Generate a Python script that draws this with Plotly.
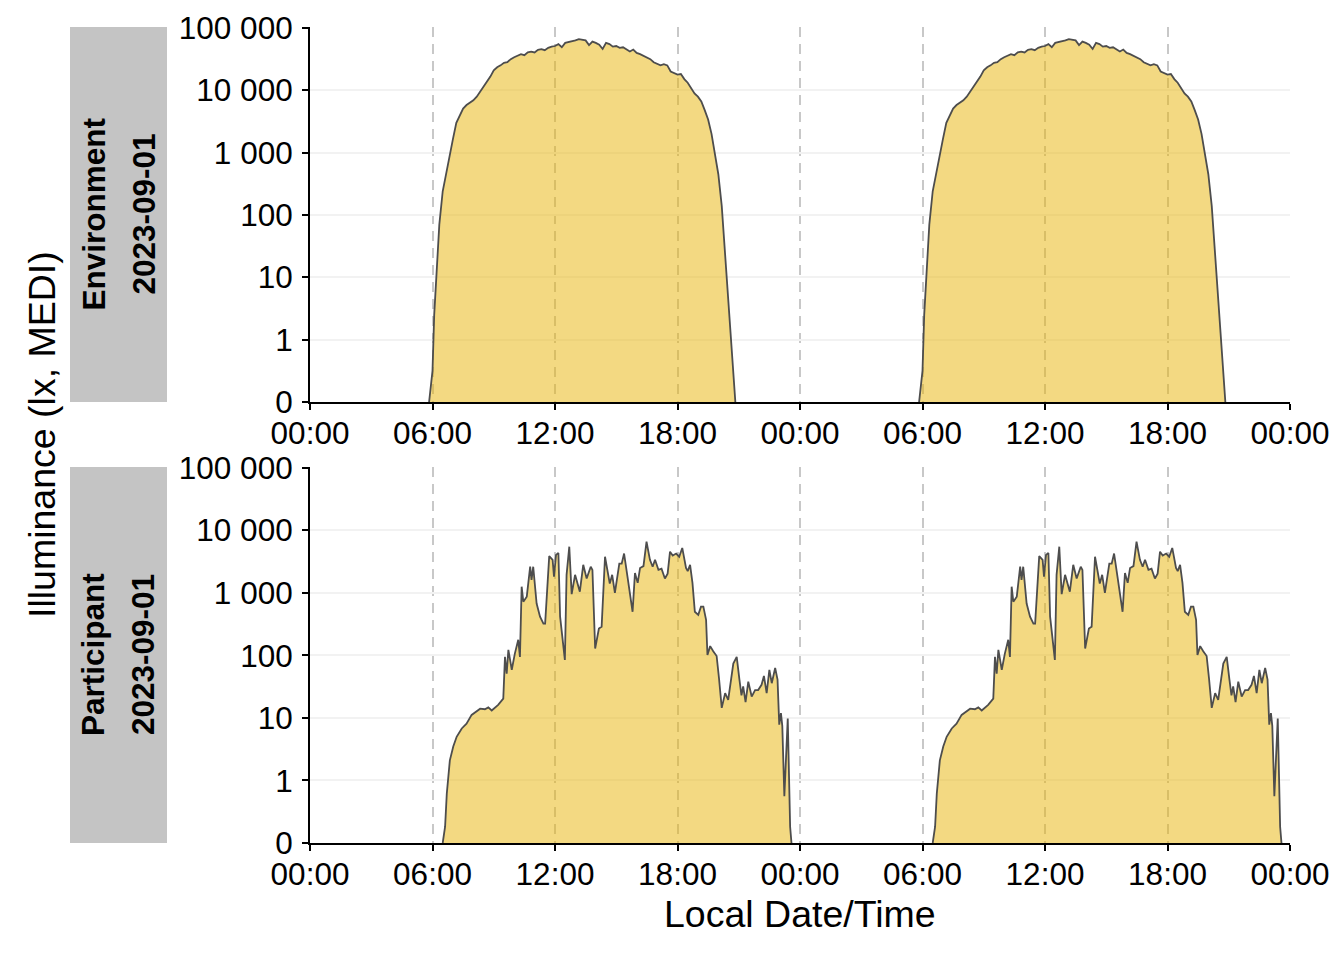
import math
import plotly.graph_objects as go

# ---------------- data ----------------
env_times = ["05:50", "06:00", "06:05", "06:10", "06:15", "06:20", "06:30", "06:40", "06:50", "07:00",
             "07:10", "07:20", "07:30", "07:40", "07:50", "08:00", "08:10", "08:20", "08:30", "08:40",
             "08:50", "09:00", "09:10", "09:20", "09:30", "09:40", "09:50", "10:00", "10:10", "10:20",
             "10:30", "10:40", "10:50", "11:00", "11:10", "11:20", "11:30", "11:40", "11:50", "12:00",
             "12:10", "12:20", "12:30", "12:40", "12:50", "13:00", "13:10", "13:20", "13:30", "13:40",
             "13:50", "14:00", "14:10", "14:20", "14:30", "14:40", "14:50", "15:00", "15:10", "15:20",
             "15:30", "15:40", "15:50", "16:00", "16:10", "16:20", "16:30", "16:40", "16:50", "17:00",
             "17:10", "17:20", "17:30", "17:40", "17:50", "18:00", "18:10", "18:20", "18:30", "18:40",
             "18:50", "19:00", "19:10", "19:20", "19:30", "19:40", "19:50", "20:00", "20:10", "20:20",
             "20:30", "20:40", "20:50"]
env_lux = [0, 0.5, 2.5, 8, 25, 70, 240, 480, 900, 1650,
           3000, 4000, 5100, 5800, 6300, 6900, 7900, 9500, 11200, 13200,
           16600, 20900, 23400, 25100, 27500, 28200, 31600, 33900, 35500, 38000,
           36500, 40700, 41700, 40500, 44700, 45700, 44000, 47900, 50100, 51300,
           55000, 49000, 57500, 58900, 61700, 63100, 66100, 64600, 63100, 53000,
           60300, 57500, 53700, 46000, 57500, 55000, 50100, 51300, 47900, 49000,
           44700, 42000, 45000, 39800, 38000, 35500, 33100, 31600, 28200, 26900,
           25100, 26300, 25100, 20000, 19000, 17800, 18200, 15100, 13200, 10700,
           8900, 7900, 6600, 4800, 3400, 2000, 1000, 450, 140, 22,
           4, 0.75, 0]

part_times = ["06:30", "06:37", "06:42", "06:51", "07:01", "07:11", "07:26", "07:40", "07:55", "08:20",
              "08:34", "08:44", "08:54", "09:13", "09:28", "09:33", "09:38", "09:43", "09:53", "10:02",
              "10:12", "10:17", "10:22", "10:27", "10:37", "10:47", "10:51", "10:56", "11:06", "11:16",
              "11:26", "11:31", "11:43", "11:53", "11:57", "12:03", "12:10", "12:15", "12:29", "12:34",
              "12:42", "12:49", "12:59", "13:13", "13:23", "13:33", "13:45", "13:50", "13:58", "14:09",
              "14:17", "14:27", "14:41", "14:48", "14:56", "15:09", "15:16", "15:23", "15:33", "15:48",
              "15:55", "16:03", "16:10", "16:20", "16:29", "16:39", "16:47", "16:54", "17:04", "17:13",
              "17:23", "17:31", "17:38", "17:46", "17:56", "18:05", "18:14", "18:25", "18:30", "18:37",
              "18:44", "18:51", "19:01", "19:09", "19:16", "19:24", "19:28", "19:36", "19:45", "19:55",
              "20:02", "20:10", "20:20", "20:29", "20:44", "20:54", "21:02", "21:08", "21:13", "21:20",
              "21:28", "21:38", "21:48", "21:57", "22:07", "22:14", "22:22", "22:30", "22:37", "22:47",
              "22:54", "22:59", "23:04", "23:08", "23:14", "23:24", "23:31", "23:35"]
part_lux = [0, 0.26, 0.79, 2.1, 3.5, 5.0, 6.8, 8.1, 11.2, 14.1,
            13.8, 14.8, 13.2, 16.2, 20.4, 95, 51, 123, 59, 107,
            178, 95, 1260, 724, 871, 2630, 1620, 2630, 676, 417,
            324, 324, 3890, 3390, 1820, 4070, 4370, 417, 85, 1950,
            5500, 955, 1950, 1050, 2820, 1700, 2630, 2340, 129, 269,
            288, 3800, 1410, 1950, 1000, 2950, 2950, 4270, 1820, 500,
            2090, 1450, 2510, 2690, 6600, 3390, 2630, 3390, 2340, 2450,
            1700, 2040, 4570, 3980, 4270, 3800, 5250, 2510, 2240, 2820,
            1450, 500, 447, 603, 603, 372, 102, 141, 117, 98,
            43, 14.5, 25, 19.5, 74, 95, 41, 23, 32, 18,
            38, 22, 28, 28, 34, 47, 25, 59, 36, 63,
            41, 7.8, 12, 7.4, 0.75, 9.8, 0.26, 0]

panel_labels = [("Environment", "2023-09-01"), ("Participant", "2023-09-01")]
y_tick_values = [0, 1, 10, 100, 1000, 10000, 100000]
y_tick_labels = ["0", "1", "10", "100", "1 000", "10 000", "100 000"]
x_tick_hours = [0, 6, 12, 18, 24, 30, 36, 42, 48]
x_tick_labels = ["00:00", "06:00", "12:00", "18:00", "00:00", "06:00", "12:00", "18:00", "00:00"]


# ---------------- helpers ----------------
def symlog(v):
    # symlog transform, base 10, threshold 1 (linear below 1)
    return v if v < 1 else math.log10(v) + 1


def to_hours(t):
    h, m = t.split(":")
    return int(h) + int(m) / 60


FONT = "Liberation Sans, Arial, Helvetica, sans-serif"
FILL = "rgba(231,179,5,0.5)"
LINE = "#4D4D4D"
OFF = 8                       # page body margin of the html page
W, H = 1344 - OFF, 960 - OFF  # figure size so that it fits the window


def px(xp):
    return (xp - OFF) / W


def py(yp):
    return 1 - (yp - OFF) / H


fig = go.Figure()

panels = [(env_times, env_lux), (part_times, part_lux)]
px_x0, px_x1 = 310, 1290
panel_px = [(27, 402), (467, 843)]

for i, (times, lux) in enumerate(panels):
    hrs = [to_hours(t) for t in times]
    yv = [symlog(v) for v in lux]
    xa = "x" if i == 0 else "x2"
    ya = "y" if i == 0 else "y2"
    for offset in (0, 24):
        fig.add_trace(go.Scatter(
            x=[h + offset for h in hrs], y=yv, mode="lines",
            line=dict(color=LINE, width=1.8), fill="tozeroy", fillcolor=FILL,
            xaxis=xa, yaxis=ya, showlegend=False, hoverinfo="skip"))

TICKSIZE = 31.5
for i, (top, bot) in enumerate(panel_px):
    xkey = "xaxis" if i == 0 else "xaxis2"
    ykey = "yaxis" if i == 0 else "yaxis2"
    yname = "y" if i == 0 else "y2"
    xname = "x" if i == 0 else "x2"
    fig.layout[xkey] = dict(
        domain=[px(px_x0), px(px_x1)], range=[0, 48], anchor=yname, automargin=False,
        tickvals=x_tick_hours, ticktext=x_tick_labels,
        showline=True, linecolor="black", linewidth=2,
        ticks="outside", ticklen=6, tickwidth=2, tickcolor="black",
        ticklabelstandoff=-4,
        tickfont=dict(family=FONT, size=TICKSIZE, color="black"),
        showgrid=True, gridcolor="#C8C8C8", gridwidth=1.5, griddash="10px,7px",
        zeroline=False, fixedrange=True)
    fig.layout[ykey] = dict(
        domain=[py(bot), py(top)], range=[0, 6.015], anchor=xname, automargin=False,
        tickvals=[symlog(v) for v in y_tick_values], ticktext=y_tick_labels,
        showline=True, linecolor="black", linewidth=2,
        ticks="outside", ticklen=6, tickwidth=2, tickcolor="black",
        ticklabelstandoff=3,
        tickfont=dict(family=FONT, size=TICKSIZE, color="black"),
        showgrid=True, gridcolor="#F2F2F2", gridwidth=1.6,
        zeroline=False, fixedrange=True)

shapes = []
annotations = []
for i, (top, bot) in enumerate(panel_px):
    shapes.append(dict(type="rect", xref="paper", yref="paper",
                       x0=px(70), x1=px(167), y0=py(bot), y1=py(top),
                       fillcolor="#C4C4C4", line=dict(width=0), layer="below"))
    cy = py((top + bot) / 2)
    for txt, xc in zip(panel_labels[i], (93, 143)):
        annotations.append(dict(text="<b>%s</b>" % txt, x=px(xc), y=cy, xref="paper", yref="paper",
                                textangle=-90, showarrow=False, xanchor="center", yanchor="middle",
                                font=dict(family=FONT, size=31.5, color="black")))

annotations.append(dict(text="Illuminance (lx, MEDI)", x=px(42), y=py(435),
                        xref="paper", yref="paper", textangle=-90, showarrow=False,
                        xanchor="center", yanchor="middle",
                        font=dict(family=FONT, size=37.5, color="black")))
annotations.append(dict(text="Local Date/Time", x=px(800), y=py(914),
                        xref="paper", yref="paper", showarrow=False,
                        xanchor="center", yanchor="middle",
                        font=dict(family=FONT, size=37.5, color="black")))

fig.update_layout(width=W, height=H, margin=dict(l=0, r=0, t=0, b=0, autoexpand=False),
                  paper_bgcolor="white", plot_bgcolor="white",
                  shapes=shapes, annotations=annotations, showlegend=False)

fig.write_html("out.html")
